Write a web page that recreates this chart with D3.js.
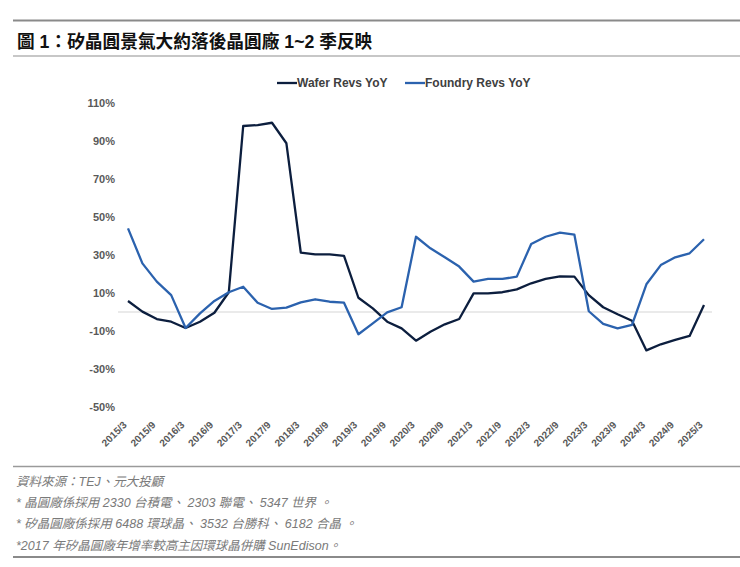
<!DOCTYPE html>
<html><head><meta charset="utf-8">
<script src="https://cdn.jsdelivr.net/npm/d3@7/dist/d3.min.js"></script>
<style>
body{margin:0;background:#fff;}
svg{display:block;font-family:"Liberation Sans",Arial,"Noto Sans CJK TC",sans-serif;}
</style></head>
<body><svg id="c" width="740" height="567"></svg>
<script>
const quarters = [];
for (let y = 2015; y <= 2025; y++) for (const m of [3,6,9,12]) { if (y === 2025 && m > 3) break; quarters.push(y + "/" + m); }
const tickLabels = quarters.filter(q => q.endsWith("/3") || q.endsWith("/9"));
const waferYoY = [5.8,0.2,-3.7,-5.1,-8.4,-5.1,-0.4,10.4,97.9,98.4,99.6,88.8,31.2,30.3,30.3,29.5,7.5,1.9,-5.1,-8.6,-15.1,-10.4,-6.5,-3.7,9.8,9.8,10.4,11.9,15.1,17.4,18.8,18.6,8.9,2.5,-1.2,-4.6,-20.2,-17.0,-14.7,-12.6,3.7];
const foundryYoY = [44,25.6,16,8.9,-8.4,-0.7,5.8,10.4,13.3,4.9,1.6,2.3,5.1,6.7,5.4,4.9,-11.7,-6,-0.2,2.5,39.6,33.5,28.8,23.9,16,17.4,17.4,18.6,35.8,39.6,41.8,40.7,0.4,-6.3,-8.6,-6.8,14.6,24.7,28.8,30.9,38.3];
const yTicks = [110,90,70,50,30,10,-10,-30,-50];
const seriesNames = ["Wafer Revs YoY","Foundry Revs YoY"];
const colors = ["#0c1e3e","#2b62ae"];
const title = "圖 1：矽晶圓景氣大約落後晶圓廠 1~2 季反映";
const notes = ["資料來源：TEJ、元大投顧","* 晶圓廠係採用 2330 台積電、 2303 聯電、 5347 世界 。","* 矽晶圓廠係採用 6488 環球晶、 3532 台勝科、 6182 合晶 。","*2017 年矽晶圓廠年增率較高主因環球晶併購 SunEdison。"];

const svg = d3.select("#c");
// rules
svg.append("line").attr("x1",13).attr("x2",740).attr("y1",20.5).attr("y2",20.5).attr("stroke","#8a8a8a").attr("stroke-width",2);
svg.append("line").attr("x1",13).attr("x2",740).attr("y1",56).attr("y2",56).attr("stroke","#b5b5b5").attr("stroke-width",1.5);
svg.append("line").attr("x1",13).attr("x2",740).attr("y1",466.5).attr("y2",466.5).attr("stroke","#9a9a9a").attr("stroke-width",1.5);
svg.append("line").attr("x1",13).attr("x2",740).attr("y1",557).attr("y2",557).attr("stroke","#8a8a8a").attr("stroke-width",2);
svg.append("text").attr("x",17).attr("y",47.5).attr("font-size",17.7).attr("font-weight","bold").attr("fill","#111")
  .attr("font-family","'Liberation Sans','Noto Sans CJK TC',sans-serif").text(title);

const x = d3.scalePoint().domain(quarters).range([128,704]);
const y = d3.scaleLinear().domain([-50,110]).range([407,103]);

// zero line
svg.append("line").attr("x1",118).attr("x2",712).attr("y1",y(0)).attr("y2",y(0)).attr("stroke","#e3e3e3").attr("stroke-width",1.5);

// y axis
const ya = svg.append("g").attr("transform","translate(115,0)").call(d3.axisLeft(y).tickValues(yTicks).tickSize(0).tickPadding(0).tickFormat(d=>d+"%"));
ya.select(".domain").remove();
ya.selectAll("text").attr("font-size",11).attr("font-weight","bold").attr("fill","#595959").attr("font-family","'Liberation Sans',Arial,sans-serif");

// x axis
const xa = svg.append("g").attr("transform","translate(0,407)").call(d3.axisBottom(x).tickValues(tickLabels).tickSize(0).tickPadding(0));
xa.select(".domain").remove();
xa.selectAll("text").attr("font-size",10).attr("font-weight","bold").attr("fill","#595959").attr("font-family","'Liberation Sans',Arial,sans-serif")
  .attr("text-anchor","end").attr("dy",null).attr("y",0).attr("transform","translate(-1,18.5) rotate(-45)");

// lines
const line = d3.line().x((d,i)=>x(quarters[i])).y(d=>y(d));
[waferYoY, foundryYoY].forEach((s,k)=>{
  svg.append("path").datum(s).attr("d",line).attr("fill","none").attr("stroke",colors[k]).attr("stroke-width",2.3).attr("stroke-linejoin","round");
});

// legend
const legX = [277,405];
seriesNames.forEach((n,k)=>{
  svg.append("line").attr("x1",legX[k]).attr("x2",legX[k]+20).attr("y1",83).attr("y2",83).attr("stroke",colors[k]).attr("stroke-width",2.3);
  svg.append("text").attr("x",legX[k]+20).attr("y",87).attr("font-size",12).attr("font-weight","bold").attr("fill","#404040").text(n);
});

// notes
const ny = [486,507,528,550];
notes.forEach((t,i)=>{
  svg.append("text").attr("x",16).attr("y",ny[i]).attr("font-size",12.5).attr("font-style","italic").attr("fill","#7a7a7a")
   .attr("font-family","'Liberation Sans','Noto Sans CJK TC',sans-serif").text(t);
});
</script></body></html>
